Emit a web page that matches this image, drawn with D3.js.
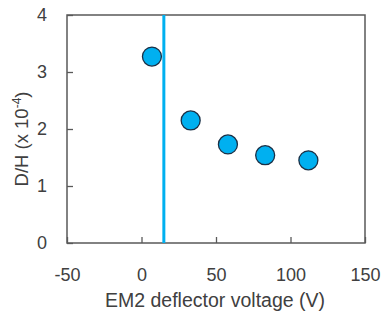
<!DOCTYPE html>
<html>
<head>
  <meta charset="utf-8">
  <style>
    body { margin: 0; background: #fff; }
    text { font-family: "Liberation Sans", Arial, sans-serif; fill: #404040; }
  </style>
</head>
<body>
  <script src="https://d3js.org/d3.v7.min.js"></script>
  <script>
    // voltage (V) vs D/H ratio (x 10^-4)
    const voltage = [7, 33, 58, 83, 112];
    const ratio = [3.27, 2.15, 1.73, 1.54, 1.45];
    const markerVoltage = 15;
    const xTicks = [-50, 0, 50, 100, 150];
    const yTicks = [0, 1, 2, 3, 4];

    const w = 383;
    const h = 312;
    const mLeft = 67, mRight = 365, mTop = 15, mBottom = 243;

    const xScale = d3.scaleLinear().domain([-50, 150]).range([mLeft, mRight]);
    const yScale = d3.scaleLinear().domain([0, 4]).range([mBottom, mTop]);

    const fmt = (d) => String(d); // plain hyphen minus, no decimals

    const svg = d3.select("body").append("svg")
      .attr("width", w)
      .attr("height", h);

    // frame
    svg.append("rect")
      .attr("x", mLeft).attr("y", mTop)
      .attr("width", mRight - mLeft).attr("height", mBottom - mTop)
      .attr("fill", "none")
      .attr("stroke", "#595959")
      .attr("stroke-width", 1.5);

    // inner ticks
    const xAxis = d3.axisBottom(xScale).tickValues(xTicks).tickFormat(fmt)
      .tickSizeInner(-6).tickSizeOuter(0).tickPadding(25);
    const gx = svg.append("g")
      .attr("transform", "translate(0," + mBottom + ")")
      .call(xAxis);
    gx.select(".domain").remove();
    gx.selectAll(".tick line").attr("stroke", "#595959").attr("stroke-width", 1.3);
    gx.selectAll(".tick text")
      .attr("font-size", 18)
      .attr("font-family", "Liberation Sans, Arial, sans-serif")
      .attr("fill", "#404040");

    const yAxis = d3.axisLeft(yScale).tickValues(yTicks).tickFormat(fmt)
      .tickSizeInner(-6).tickSizeOuter(0).tickPadding(20);
    const gy = svg.append("g")
      .attr("transform", "translate(" + mLeft + ",0)")
      .call(yAxis);
    gy.select(".domain").remove();
    gy.selectAll(".tick line").attr("stroke", "#595959").attr("stroke-width", 1.3);
    gy.selectAll(".tick text")
      .attr("font-size", 18)
      .attr("font-family", "Liberation Sans, Arial, sans-serif")
      .attr("fill", "#404040");

    // deflector marker line
    svg.append("line")
      .attr("x1", xScale(markerVoltage)).attr("x2", xScale(markerVoltage))
      .attr("y1", mTop).attr("y2", mBottom)
      .attr("stroke", "#00b0f0")
      .attr("stroke-width", 3);

    svg.selectAll("circle")
      .data(voltage)
      .enter()
      .append("circle")
      .attr("cx", (d) => xScale(d))
      .attr("cy", (d, i) => yScale(ratio[i]))
      .attr("r", 9.5)
      .attr("fill", "#00b0f0")
      .attr("stroke", "#1a2f45")
      .attr("stroke-width", 1.3);

    // axis titles
    svg.append("text")
      .attr("x", 215)
      .attr("y", 307)
      .attr("text-anchor", "middle")
      .attr("font-size", 19.5)
      .text("EM2 deflector voltage (V)");

    const yl = svg.append("text")
      .attr("transform", "translate(28,139) rotate(-90)")
      .attr("text-anchor", "middle")
      .attr("font-size", 18.5);
    yl.append("tspan").text("D/H (x 10");
    yl.append("tspan").attr("font-size", 12).attr("dy", -7).text("-4");
    yl.append("tspan").attr("dy", 7).text(")");
  </script>
</body>
</html>
